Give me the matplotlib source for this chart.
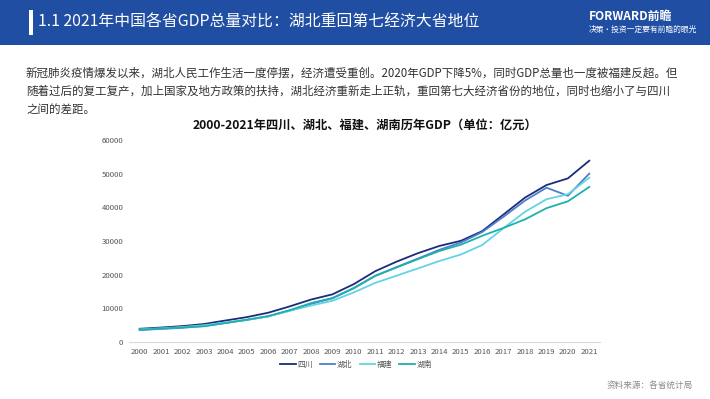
import matplotlib
matplotlib.use("Agg")
import matplotlib.pyplot as plt
from matplotlib.patches import Rectangle

plt.rcParams['font.family'] = ['Noto Sans CJK SC', 'DejaVu Sans']

years = [str(y) for y in range(2000, 2022)]
sichuan = [3928, 4293, 4725, 5333, 6380, 7385, 8690, 10562, 12601, 14151, 17185,
           21027, 23873, 26392, 28537, 30053, 32935, 37905, 42902, 46616, 48599, 53851]
hubei = [3546, 3881, 4213, 4758, 5633, 6590, 7617, 9333, 11329, 12961, 15968,
         19632, 22250, 24792, 27379, 29550, 32665, 37235, 42022, 45828, 43443, 50013]
fujian = [3765, 4073, 4468, 4984, 5763, 6555, 7584, 9249, 10824, 12237, 14737,
          17560, 19702, 21868, 24056, 25980, 28811, 33842, 38688, 42395, 43904, 48810]
hunan = [3692, 3983, 4341, 4660, 5642, 6596, 7689, 9440, 11555, 13060, 16038,
         19670, 22154, 24622, 27037, 28902, 31551, 33903, 36426, 39752, 41781, 46063]
series_names = ['四川', '湖北', '福建', '湖南']
series_values = [sichuan, hubei, fujian, hunan]
series_colors = ['#1c2b7c', '#4d7fcc', '#63d3e6', '#1fb0ad']
y_ticks = [0, 10000, 20000, 30000, 40000, 50000, 60000]

W, H = 710, 399
fig = plt.figure(figsize=(W / 100, H / 100), dpi=100)
fig.patch.set_facecolor('white')

def fx(px):
    return px / W

def fy(py):
    return 1 - py / H

# header bar
fig.patches.append(Rectangle((0, fy(45)), 1, 45 / H, transform=fig.transFigure,
                             facecolor='#1f4ea3', edgecolor='none', zorder=0))
fig.patches.append(Rectangle((fx(29), fy(35)), 4 / W, 25 / H, transform=fig.transFigure,
                             facecolor='white', edgecolor='none', zorder=1))
fig.text(fx(38), fy(22), '1.1 2021年中国各省GDP总量对比：湖北重回第七经济大省地位',
         color='white', fontsize=11.4, va='center', ha='left')
fig.text(fx(589), fy(16), 'FORWARD前瞻', color='white', fontsize=8.6, fontweight='bold',
         va='center', ha='left')
fig.text(fx(589), fy(30), '决策·投资一定要有前瞻的眼光', color='white', fontsize=5.6,
         va='center', ha='left')

# paragraph
para = ['新冠肺炎疫情爆发以来，湖北人民工作生活一度停摆，经济遭受重创。2020年GDP下降5%，同时GDP总量也一度被福建反超。但',
        '随着过后的复工复产，加上国家及地方政策的扶持，湖北经济重新走上正轨，重回第七大经济省份的地位，同时也缩小了与四川',
        '之间的差距。']
for i, line in enumerate(para):
    fig.text(fx(26), fy(73 + 18 * i), line, color='#333333', fontsize=8.3,
             va='center', ha='left')

# chart title
fig.text(fx(365), fy(125), '2000-2021年四川、湖北、福建、湖南历年GDP（单位：亿元）',
         color='#111111', fontsize=8.8, fontweight='bold', va='center', ha='center')

ax = fig.add_axes([fx(129), fy(342), (600 - 129) / W, (342 - 140) / H])
x = list(range(len(years)))
for name, vals, c in zip(series_names, series_values, series_colors):
    ax.plot(x, vals, color=c, lw=1.3, label=name)
ax.set_xlim(-0.5, len(years) - 0.5)
ax.set_ylim(0, 60000)
ax.set_xticks(x)
ax.set_xticklabels(years)
ax.set_yticks(y_ticks)
ax.set_yticklabels([str(v) for v in y_ticks])
for s in ['top', 'right', 'left']:
    ax.spines[s].set_visible(False)
ax.spines['bottom'].set_color('#d9d9d9')
ax.spines['bottom'].set_linewidth(0.8)
ax.tick_params(axis='both', length=0, labelsize=5.6, colors='#555555')
ax.tick_params(axis='x', pad=4)
ax.tick_params(axis='y', pad=4)
ax.set_facecolor('none')

leg = fig.legend(loc='center', bbox_to_anchor=(fx(356), fy(365)), ncol=4, frameon=False,
                 fontsize=5.6, handlelength=2.0, handletextpad=0.2, columnspacing=0.9)
for t in leg.get_texts():
    t.set_color('#555555')

fig.text(fx(693), fy(385), '资料来源：各省统计局', color='#8a8a8a', fontsize=6.2,
         va='center', ha='right')

fig.savefig('out.png', dpi=100)
